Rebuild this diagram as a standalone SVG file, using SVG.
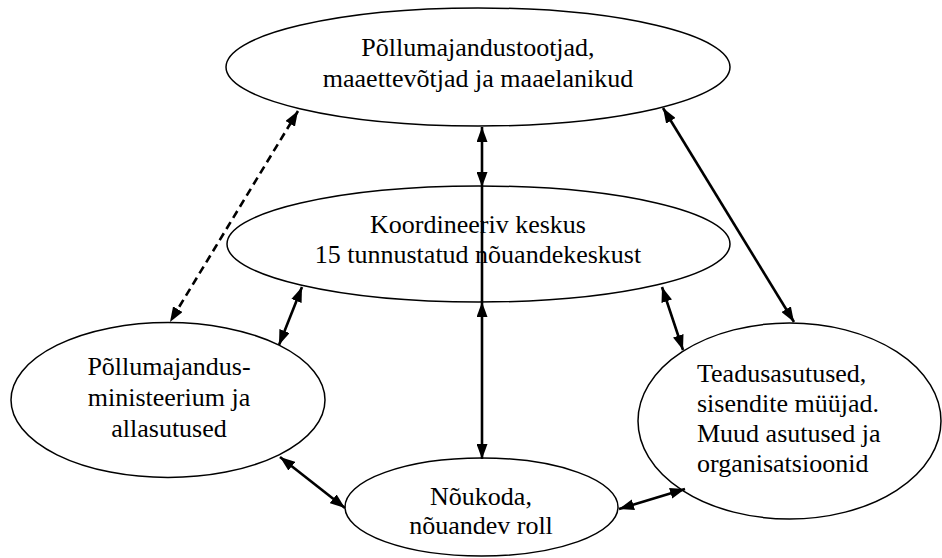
<svg xmlns="http://www.w3.org/2000/svg" width="942" height="558" viewBox="0 0 942 558">
<defs>
<marker id="ah" viewBox="0 0 15 11" refX="15" refY="5.5" markerWidth="15" markerHeight="11" markerUnits="userSpaceOnUse" orient="auto-start-reverse">
<path d="M0,0 L15,5.5 L0,11 z" fill="#000"/>
</marker>
<style>
.node ellipse{fill:#fff;stroke:#000;stroke-width:1.5}
.node text{font-family:'Liberation Serif','Times New Roman',serif;font-size:26px;fill:#000}
.c{text-anchor:middle}
.conn line{stroke:#000;stroke-width:2.6;fill:none}
.dash{stroke-dasharray:8,5}
</style>
</defs>
<rect width="942" height="558" fill="#fff"/>
<g id="n-top" class="node">
<ellipse cx="478" cy="67" rx="252" ry="59"/>
<text class="c" x="478" y="56">Põllumajandustootjad,</text>
<text class="c" x="478" y="87">maaettevõtjad ja maaelanikud</text>
</g>
<g id="n-mid" class="node">
<ellipse cx="478.5" cy="244" rx="251.5" ry="58"/>
<text class="c" x="478" y="233">Koordineeriv keskus</text>
<text class="c" x="478" y="263">15 tunnustatud nõuandekeskust</text>
</g>
<g id="n-left" class="node">
<ellipse cx="168" cy="400" rx="157" ry="77.5"/>
<text class="c" x="169" y="375">Põllumajandus-</text>
<text class="c" x="169" y="406">ministeerium ja</text>
<text class="c" x="169" y="437">allasutused</text>
</g>
<g id="n-right" class="node">
<ellipse cx="789.5" cy="421" rx="151.5" ry="98"/>
<text x="697" y="382">Teadusasutused,</text>
<text x="697" y="412">sisendite müüjad.</text>
<text x="697" y="442">Muud asutused ja</text>
<text x="697" y="472">organisatsioonid</text>
</g>
<g id="n-bottom" class="node">
<ellipse cx="481.5" cy="507" rx="136.5" ry="49"/>
<text class="c" x="481" y="505">Nõukoda,</text>
<text class="c" x="481" y="534">nõuandev roll</text>
</g>
<g id="connectors" class="conn">
<line class="dash" x1="298" y1="111" x2="170" y2="322" marker-start="url(#ah)" marker-end="url(#ah)"/>
<line x1="482" y1="127" x2="482" y2="187" marker-start="url(#ah)" marker-end="url(#ah)"/>
<line x1="482" y1="187" x2="482" y2="302"/>
<line x1="482" y1="302" x2="482" y2="459" marker-start="url(#ah)" marker-end="url(#ah)"/>
<line x1="663" y1="108" x2="794" y2="322" marker-start="url(#ah)" marker-end="url(#ah)"/>
<line x1="302" y1="287" x2="279" y2="345" marker-start="url(#ah)" marker-end="url(#ah)"/>
<line x1="662" y1="287" x2="683" y2="350" marker-start="url(#ah)" marker-end="url(#ah)"/>
<line x1="280" y1="457" x2="345" y2="508" marker-start="url(#ah)" marker-end="url(#ah)"/>
<line x1="619" y1="509" x2="685" y2="489" marker-start="url(#ah)" marker-end="url(#ah)"/>
</g>
</svg>
